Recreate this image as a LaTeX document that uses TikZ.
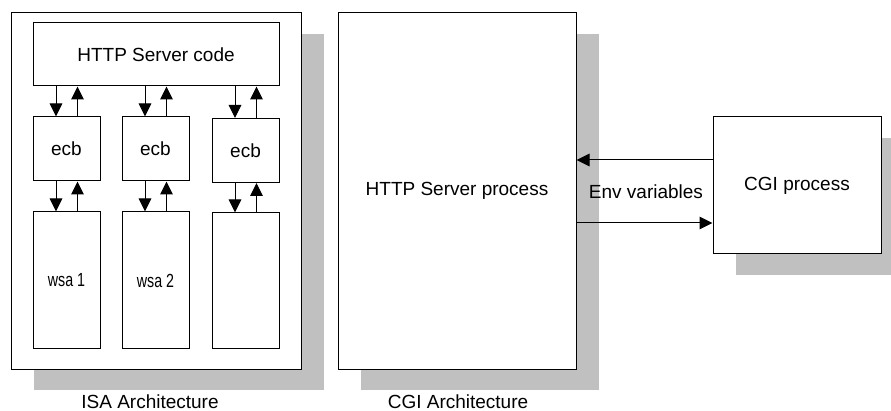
\documentclass[tikz,border=0pt]{standalone}
\usepackage{fontspec}
\setmainfont{Liberation Sans}
\newfontfamily\narrowfont[FakeStretch=0.75]{Liberation Sans}
\usetikzlibrary{arrows.meta,calc,shadows}
\definecolor{shadowgray}{HTML}{C0C0C0}
\tikzset{
  box/.style={draw=black, line width=1pt, fill=white, inner sep=0pt,
    font=\fontsize{19}{22}\selectfont},
  shadowed/.style={drop shadow={shadow xshift=23pt, shadow yshift=-21pt,
    fill=shadowgray, opacity=1}},
  arr/.style={line width=1pt, -{Triangle[length=13pt,width=12.5pt]}},
  label/.style={font=\fontsize{19}{22}\selectfont, inner sep=0pt},
}
\begin{document}
\begin{tikzpicture}[x=1pt,y=-1pt]
\useasboundingbox (0,0) rectangle (891,411);

% ISA architecture
\node[box, shadowed, minimum width=290pt, minimum height=356pt] (isa) at (156,191) {};
\node[box, minimum width=246pt, minimum height=63pt] (code) at (156,54.5) {HTTP Server code};
\node[box, minimum width=67pt, minimum height=64pt] (ecb1) at (66.5,149) {ecb};
\node[box, minimum width=67pt, minimum height=64pt] (ecb2) at (155.5,149) {ecb};
\node[box, minimum width=67pt, minimum height=64pt] (ecb3) at (245.5,150.5) {ecb};
\node[box, minimum width=67pt, minimum height=137pt] (wsa1) at (66.5,280.5) {\narrowfont wsa 1};
\node[box, minimum width=67pt, minimum height=137pt] (wsa2) at (155.5,280.5) {\narrowfont wsa 2};
\node[box, minimum width=67pt, minimum height=136pt] (wsa3) at (245.5,281) {};

\foreach \i in {1,2,3} {
  \draw[arr] ($(code.south -| ecb\i.north)+(-10.5,0)$) -- ($(ecb\i.north)+(-10.5,0)$);
  \draw[arr] ($(ecb\i.north)+(11,0)$) -- ($(code.south -| ecb\i.north)+(11,0)$);
  \draw[arr] ($(ecb\i.south)+(-10.5,0)$) -- ($(wsa\i.north -| ecb\i.south)+(-10.5,0)$);
  \draw[arr] ($(wsa\i.north -| ecb\i.south)+(11,0)$) -- ($(ecb\i.south)+(11,0)$);
}

\node[label, anchor=base] (isacap) at (150,408.5) {ISA Architecture};

% CGI architecture
\node[box, shadowed, minimum width=238pt, minimum height=356pt] (srv) at (457,191) {HTTP Server process};
\node[box, shadowed, minimum width=168pt, minimum height=137pt] (cgi) at (797,185.5) {CGI process};

\coordinate (outA) at ($(cgi.west)+(0,-25.5)$);
\coordinate (inB) at ($(srv.east |- cgi.west)+(0,37.5)$);
\draw[arr] (outA) -- (outA -| srv.east);
\draw[arr] (inB) -- (inB -| cgi.west);

\node[label] (env) at (646,192) {Env variables};
\node[label, anchor=base] (cgicap) at (458,408.5) {CGI Architecture};
\end{tikzpicture}
\end{document}
